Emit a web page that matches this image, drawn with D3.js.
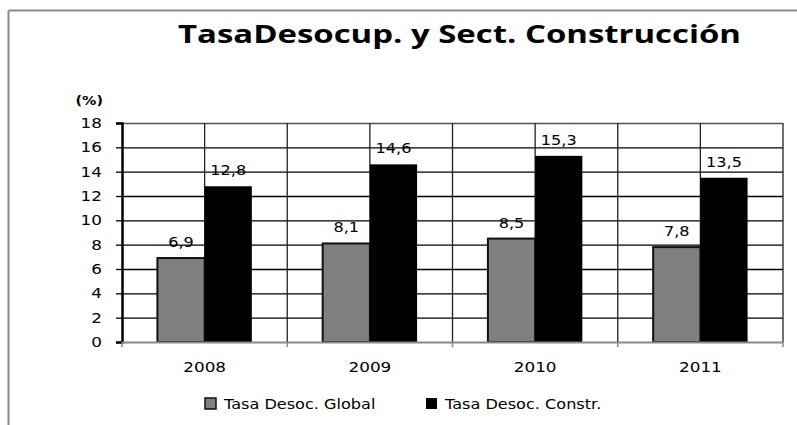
<!DOCTYPE html>
<html lang="es">
<head>
    <meta charset="utf-8">
    <title>Tasa Desocupación y Sector Construcción</title>
    <script src="https://d3js.org/d3.v7.min.js"></script>
    <style type="text/css">
        body { margin: 0; background: #fff; }
        text { font-family: "DejaVu Sans", sans-serif; fill: #000; }
        .title { font-family: "Open Sans", sans-serif; font-weight: bold; }
    </style>
</head>
<body>
<script type="text/javascript">
    const w = 797, h = 425;

    // Data
    const years = ["2008", "2009", "2010", "2011"];
    const seriesNames = ["Tasa Desoc. Global", "Tasa Desoc. Constr."];
    const global = [6.9, 8.1, 8.5, 7.8];
    const constr = [12.8, 14.6, 15.3, 13.5];
    const yTicks = [0, 2, 4, 6, 8, 10, 12, 14, 16, 18];
    const colors = ["#808080", "#000000"];

    const plotLeft = 122, plotRight = 783, plotTop = 123, plotBottom = 342;

    const svg = d3.select("body").append("svg")
        .attr("width", w)
        .attr("height", h);

    // stretch text a bit wider, the original looks horizontally stretched
    function stretch(sel, k) {
        sel.each(function() {
            const len = this.getComputedTextLength();
            d3.select(this).attr("textLength", len * k).attr("lengthAdjust", "spacingAndGlyphs");
        });
    }

    // outer frame (only top and left visible)
    svg.append("line").attr("x1", 8.5).attr("x2", w).attr("y1", 10.5).attr("y2", 10.5)
        .attr("stroke", "#8a8a8a").attr("stroke-width", 2);
    svg.append("line").attr("x1", 8.5).attr("x2", 8.5).attr("y1", 10.5).attr("y2", h)
        .attr("stroke", "#8a8a8a").attr("stroke-width", 2);

    // Scales
    const x0 = d3.scaleBand().domain(years).range([plotLeft, plotRight]);
    const x1 = d3.scaleBand().domain(["g", "c"]).range([0, x0.bandwidth()]).paddingOuter(0.75).paddingInner(0);
    const yScale = d3.scaleLinear().domain([0, 18]).range([plotBottom, plotTop]);

    // horizontal grid
    svg.append("g").selectAll("line").data(yTicks.filter(d => d > 0)).join("line")
        .attr("x1", plotLeft).attr("x2", plotRight)
        .attr("y1", d => yScale(d) + 0.5).attr("y2", d => yScale(d) + 0.5)
        .attr("stroke", d => d === 18 ? "#555" : "#000").attr("stroke-width", 1.3);

    // vertical grid at category edges and centers
    const vLines = [];
    years.forEach(y => { vLines.push(x0(y)); vLines.push(x0(y) + x0.bandwidth() / 2); });
    vLines.push(plotRight);
    svg.append("g").selectAll("line").data(vLines.slice(1)).join("line")
        .attr("x1", d => d).attr("x2", d => d)
        .attr("y1", plotTop).attr("y2", plotBottom)
        .attr("stroke", "#222").attr("stroke-width", 1.3);

    // bars
    const groups = svg.append("g").selectAll("g").data(years).join("g")
        .attr("transform", d => "translate(" + x0(d) + ",0)");
    groups.append("rect")
        .attr("x", x1("g")).attr("width", x1.bandwidth())
        .attr("y", (d, i) => yScale(global[i])).attr("height", (d, i) => plotBottom - yScale(global[i]))
        .attr("fill", colors[0]).attr("stroke", "#111").attr("stroke-width", 2);
    groups.append("rect")
        .attr("x", x1("c")).attr("width", x1.bandwidth())
        .attr("y", (d, i) => yScale(constr[i])).attr("height", (d, i) => plotBottom - yScale(constr[i]))
        .attr("fill", colors[1]);

    // data labels
    groups.append("text")
        .attr("x", x1("g") + x1.bandwidth() / 2)
        .attr("y", (d, i) => yScale(global[i]) - 11)
        .attr("text-anchor", "middle").attr("font-size", "14px")
        .text((d, i) => String(global[i]).replace(".", ","))
        .call(stretch, 1.15);
    groups.append("text")
        .attr("x", x1("c") + x1.bandwidth() / 2)
        .attr("y", (d, i) => yScale(constr[i]) - 11)
        .attr("text-anchor", "middle").attr("font-size", "14px")
        .text((d, i) => String(constr[i]).replace(".", ","))
        .call(stretch, 1.15);

    // Axes
    const leftAxis = d3.axisLeft(yScale).tickValues(yTicks).tickSize(6).tickPadding(14);
    const gy = svg.append("g").attr("transform", "translate(" + plotLeft + ",0)").call(leftAxis);
    gy.select(".domain").attr("stroke", "#000").attr("stroke-width", 2.5);
    gy.selectAll(".tick line").attr("stroke", "#000").attr("stroke-width", 1.3);
    gy.selectAll(".tick text").attr("font-size", "14px").attr("font-family", "DejaVu Sans").call(stretch, 1.2);

    const bottomAxis = d3.axisBottom(x0).tickSize(0).tickPadding(20);
    const gx = svg.append("g").attr("transform", "translate(0," + plotBottom + ")").call(bottomAxis);
    gx.select(".domain").attr("stroke", "#8a8a8a").attr("stroke-width", 2);
    gx.selectAll(".tick text").attr("font-size", "14px").attr("font-family", "DejaVu Sans").call(stretch, 1.2);
    gx.selectAll(".edge").data(years.concat(["end"])).join("line")
        .attr("class", "edge")
        .attr("x1", (d, i) => i < years.length ? x0(d) : plotRight)
        .attr("x2", (d, i) => i < years.length ? x0(d) : plotRight)
        .attr("y1", 0).attr("y2", 5)
        .attr("stroke", "#8a8a8a").attr("stroke-width", 1.5);

    // "(%)"
    svg.append("text").attr("x", 103).attr("y", 105).attr("text-anchor", "end")
        .attr("font-size", "13px").attr("font-weight", "bold").text("(%)").call(stretch, 1.1);

    // Title
    svg.append("text").attr("class", "title")
        .attr("x", 178).attr("y", 43).attr("font-size", "25px")
        .attr("textLength", 563).attr("lengthAdjust", "spacingAndGlyphs")
        .text("TasaDesocup. y Sect. Construcción");

    // Legend
    const legX = [205, 426];
    const leg = svg.append("g").selectAll("g").data(seriesNames).join("g")
        .attr("transform", (d, i) => "translate(" + legX[i] + ",398)");
    leg.append("rect").attr("width", 11).attr("height", 11)
        .attr("fill", (d, i) => colors[i])
        .attr("stroke", (d, i) => i === 0 ? "#111" : "none").attr("stroke-width", 1.5);
    leg.append("text").attr("x", 19).attr("y", 11).attr("font-size", "14px")
        .text(d => d).call(stretch, 1.15);
</script>
</body>
</html>
